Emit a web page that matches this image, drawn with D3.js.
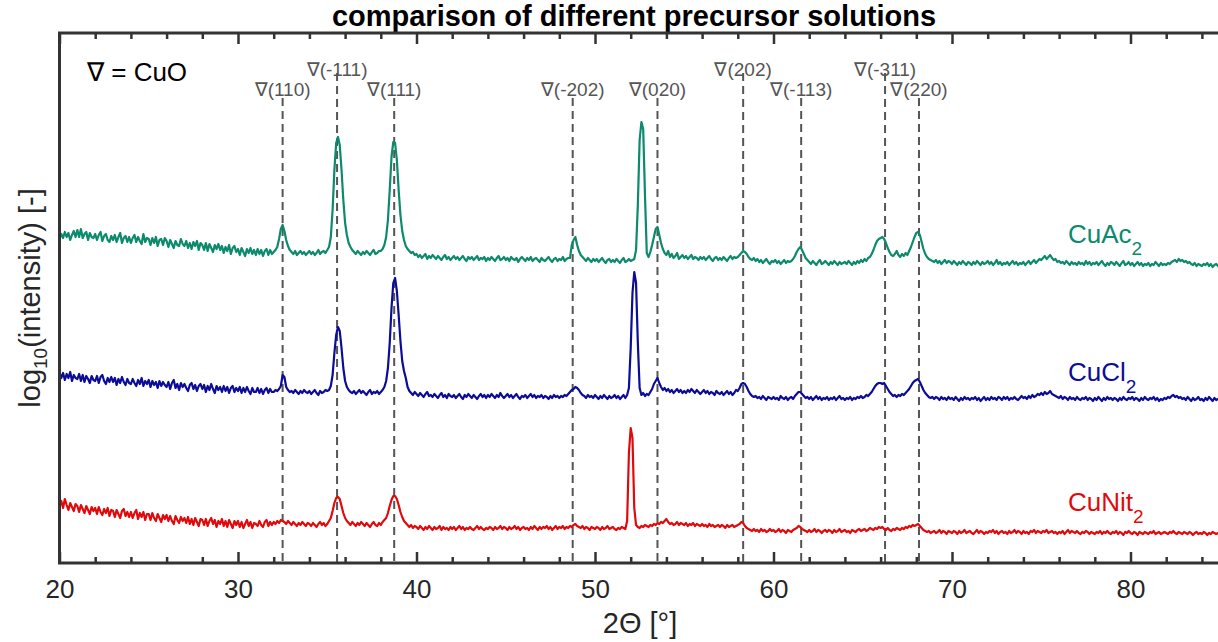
<!DOCTYPE html>
<html lang="en">
<head>
  <meta charset="UTF-8">
  <title>comparison of different precursor solutions</title>
  <script src="https://d3js.org/d3.v7.min.js"></script>
  <style>
    body { margin: 0; background: #fff; }
    text { font-family: "Liberation Sans", Arial, sans-serif; }
  </style>
</head>
<body>
<script>
  // scans are sampled every 0.1 deg from 20 deg
  var thetaStart = 20;
  var thetaStep = 0.1;

  var seriesNames = ['CuAc', 'CuCl', 'CuNit'];
  var seriesOffsets = [2.68, 1.30, 0]; // stacking offset of each scan

  // log10 intensity, one row per degree (20.0 ... 20.9, 21.0 ... )
  var cuAc = [
    .56,.61,.57,.63,.58,.62,.55,.60,.64,.58,
    .65,.58,.66,.57,.61,.63,.55,.62,.58,.57,
    .61,.55,.60,.63,.54,.59,.61,.55,.53,.59,
    .55,.60,.53,.58,.62,.52,.57,.59,.53,.58,
    .52,.57,.60,.53,.58,.54,.51,.61,.53,.57,
    .56,.50,.57,.52,.58,.49,.55,.56,.50,.57,
    .54,.48,.55,.51,.47,.54,.50,.49,.56,.51,
    .49,.54,.47,.52,.46,.53,.49,.54,.45,.52,
    .50,.45,.52,.44,.51,.47,.43,.50,.46,.51,
    .45,.49,.42,.48,.44,.50,.41,.47,.49,.43,
    .46,.40,.47,.43,.39,.46,.42,.47,.41,.45,
    .40,.46,.41,.45,.39,.44,.46,.40,.45,.41,
    .43,.45,.48,.56,.66,.70,.64,.55,.49,.45,
    .43,.41,.44,.40,.42,.44,.41,.43,.40,.42,
    .44,.41,.43,.40,.42,.45,.41,.43,.44,.42,
    .45,.48,.58,.85,1.25,1.52,1.58,1.50,1.25,.95,
    .72,.60,.52,.48,.45,.43,.41,.44,.42,.40,
    .43,.41,.44,.42,.40,.43,.45,.41,.42,.44,
    .44,.46,.50,.58,.75,1.05,1.38,1.53,1.52,1.35,
    1.05,.80,.64,.55,.49,.46,.44,.42,.43,.40,
    .41,.38,.40,.37,.39,.41,.36,.39,.37,.40,
    .38,.36,.39,.37,.35,.38,.40,.36,.38,.35,
    .37,.39,.36,.38,.35,.37,.39,.36,.34,.38,
    .36,.38,.35,.37,.39,.35,.37,.36,.38,.34,
    .37,.35,.38,.36,.34,.37,.39,.35,.36,.38,
    .35,.37,.34,.38,.36,.35,.37,.33,.36,.38,
    .36,.34,.37,.35,.38,.34,.36,.37,.35,.33,
    .37,.35,.34,.36,.38,.35,.33,.36,.37,.34,
    .36,.35,.38,.34,.36,.37,.37,.50,.55,.58,
    .50,.44,.40,.38,.36,.34,.37,.35,.33,.36,
    .34,.36,.33,.35,.37,.34,.32,.35,.36,.33,
    .35,.33,.36,.34,.32,.35,.37,.33,.34,.36,
    .34,.35,.36,.45,.90,1.55,1.73,1.66,1.00,.42,
    .38,.43,.50,.58,.66,.68,.60,.52,.46,.42,
    .40,.44,.38,.41,.37,.39,.42,.36,.38,.40,
    .37,.39,.36,.38,.40,.36,.38,.37,.35,.38,
    .36,.38,.35,.37,.39,.36,.34,.37,.38,.35,
    .37,.35,.38,.36,.34,.37,.39,.36,.38,.37,
    .38,.40,.42,.44,.43,.41,.38,.36,.35,.37,
    .34,.36,.33,.35,.32,.34,.36,.33,.31,.34,
    .33,.35,.32,.34,.31,.33,.35,.32,.34,.33,
    .34,.36,.39,.43,.46,.48,.45,.41,.37,.35,
    .33,.31,.34,.32,.30,.33,.35,.31,.32,.34,
    .32,.30,.33,.31,.34,.32,.30,.33,.31,.32,
    .33,.31,.34,.32,.30,.33,.31,.34,.32,.35,
    .33,.36,.34,.37,.38,.41,.45,.50,.54,.56,
    .57,.58,.56,.52,.47,.43,.40,.39,.41,.44,
    .40,.38,.41,.39,.42,.40,.44,.48,.53,.58,
    .62,.63,.60,.53,.46,.41,.38,.36,.35,.34,
    .33,.35,.32,.34,.31,.33,.35,.32,.34,.33,
    .31,.34,.32,.30,.33,.31,.34,.32,.30,.33,
    .32,.30,.33,.31,.34,.32,.30,.33,.31,.32,
    .34,.31,.33,.30,.32,.35,.31,.33,.30,.32,
    .31,.33,.30,.32,.34,.31,.33,.30,.32,.31,
    .33,.30,.32,.34,.31,.33,.35,.32,.34,.36,
    .35,.37,.39,.36,.38,.40,.37,.35,.36,.33,
    .34,.32,.33,.31,.34,.32,.30,.33,.31,.32,
    .30,.33,.31,.32,.30,.34,.31,.33,.30,.32,
    .31,.33,.30,.32,.34,.31,.29,.32,.30,.33,
    .32,.30,.33,.31,.29,.32,.34,.30,.31,.33,
    .30,.32,.29,.31,.33,.30,.32,.29,.31,.30,
    .32,.29,.31,.30,.33,.31,.29,.32,.30,.31,
    .30,.32,.31,.33,.34,.35,.33,.36,.34,.35,
    .33,.34,.32,.33,.31,.30,.32,.29,.31,.30,
    .29,.31,.30,.32,.29,.31,.28,.30,.31,.29,
    .30
  ];

  var cuCl = [
    .61,.55,.60,.53,.59,.55,.61,.52,.58,.55,
    .54,.59,.52,.58,.51,.57,.54,.50,.57,.53,
    .52,.57,.50,.56,.58,.52,.49,.55,.51,.56,
    .51,.55,.48,.54,.50,.56,.51,.48,.54,.50,
    .49,.54,.50,.47,.53,.49,.55,.47,.52,.49,
    .53,.46,.52,.48,.51,.45,.52,.47,.51,.48,
    .46,.51,.44,.50,.53,.45,.49,.43,.50,.46,
    .49,.45,.42,.48,.50,.44,.48,.42,.47,.49,
    .44,.48,.41,.47,.43,.49,.44,.40,.47,.43,
    .46,.41,.47,.42,.46,.40,.45,.47,.41,.45,
    .42,.46,.40,.45,.41,.46,.42,.39,.45,.41,
    .41,.45,.40,.44,.39,.43,.45,.40,.44,.41,
    .41,.43,.42,.44,.47,.58,.56,.46,.43,.41,
    .42,.40,.43,.41,.39,.42,.40,.43,.41,.40,
    .42,.39,.41,.43,.40,.38,.42,.40,.41,.43,
    .42,.43,.47,.58,.80,.98,1.06,1.02,.85,.65,
    .52,.46,.43,.41,.40,.42,.39,.41,.43,.40,
    .42,.40,.38,.41,.43,.39,.41,.40,.42,.39,
    .41,.43,.46,.52,.65,.90,1.25,1.50,1.55,1.42,
    1.18,.92,.72,.62,.55,.46,.42,.40,.38,.41,
    .39,.37,.40,.38,.36,.39,.41,.37,.38,.36,
    .39,.37,.35,.38,.40,.36,.38,.35,.39,.37,
    .36,.38,.35,.37,.39,.36,.34,.38,.36,.39,
    .37,.35,.38,.36,.34,.37,.39,.36,.38,.35,
    .38,.36,.39,.37,.35,.38,.36,.40,.37,.35,
    .37,.39,.36,.38,.35,.37,.39,.36,.34,.37,
    .36,.38,.35,.37,.39,.36,.38,.35,.37,.36,
    .38,.35,.37,.36,.34,.37,.35,.38,.36,.37,
    .35,.37,.36,.38,.37,.39,.41,.43,.44,.46,
    .45,.43,.40,.38,.37,.35,.38,.36,.37,.35,
    .38,.36,.34,.37,.35,.38,.36,.34,.37,.35,
    .36,.38,.35,.37,.34,.36,.38,.35,.38,.45,
    .85,1.40,1.61,1.50,.90,.45,.38,.40,.37,.39,
    .38,.41,.44,.49,.52,.55,.50,.46,.43,.45,
    .42,.44,.41,.43,.40,.42,.44,.41,.43,.40,
    .42,.40,.43,.41,.44,.42,.40,.43,.41,.39,
    .41,.43,.40,.42,.39,.41,.40,.38,.42,.40,
    .39,.41,.38,.40,.42,.39,.41,.38,.40,.43,
    .42,.45,.49,.50,.49,.46,.42,.39,.37,.36,
    .37,.35,.36,.34,.37,.35,.33,.36,.35,.34,
    .36,.34,.35,.33,.37,.35,.34,.36,.33,.35,
    .36,.34,.37,.39,.41,.41,.39,.37,.35,.36,
    .34,.36,.33,.35,.37,.34,.36,.33,.35,.34,
    .36,.33,.35,.34,.36,.33,.35,.37,.34,.35,
    .33,.35,.34,.36,.33,.35,.34,.36,.35,.37,
    .35,.36,.38,.37,.39,.41,.44,.47,.49,.50,
    .50,.49,.50,.47,.44,.41,.39,.37,.38,.36,
    .38,.37,.39,.38,.40,.42,.44,.47,.50,.52,
    .53,.54,.51,.47,.43,.40,.38,.36,.35,.36,
    .34,.36,.35,.33,.36,.34,.35,.33,.36,.34,
    .35,.33,.36,.34,.32,.35,.33,.36,.34,.35,
    .33,.35,.34,.36,.33,.35,.32,.34,.36,.33,
    .35,.33,.36,.34,.35,.33,.36,.35,.33,.36,
    .34,.36,.33,.35,.34,.36,.34,.33,.35,.37,
    .35,.36,.34,.37,.35,.38,.36,.37,.39,.38,
    .40,.38,.41,.39,.40,.42,.39,.38,.37,.36,
    .35,.37,.34,.36,.35,.33,.36,.34,.35,.33,
    .36,.34,.33,.35,.34,.36,.33,.35,.34,.32,
    .35,.33,.36,.34,.32,.35,.33,.36,.34,.35,
    .33,.35,.34,.32,.35,.33,.36,.34,.33,.35,
    .34,.36,.33,.35,.34,.32,.35,.33,.36,.34,
    .33,.35,.34,.36,.33,.35,.32,.34,.33,.35,
    .34,.36,.35,.37,.38,.36,.37,.35,.36,.34,
    .35,.33,.36,.34,.32,.35,.33,.34,.36,.33,
    .34,.32,.35,.33,.36,.34,.32,.35,.33,.34,
    .35
  ];

  var cuNit = [
    .56,.62,.55,.64,.58,.53,.60,.56,.52,.59,
    .57,.51,.58,.54,.50,.57,.53,.49,.56,.52,
    .55,.49,.56,.51,.48,.54,.50,.55,.47,.53,
    .52,.46,.53,.49,.45,.52,.54,.47,.51,.46,
    .51,.45,.50,.53,.44,.50,.46,.51,.43,.49,
    .49,.43,.50,.45,.42,.49,.45,.41,.48,.44,
    .48,.42,.47,.42,.39,.47,.43,.40,.46,.42,
    .45,.40,.46,.39,.44,.38,.45,.41,.37,.44,
    .43,.38,.44,.37,.42,.45,.39,.43,.36,.42,
    .39,.44,.37,.42,.36,.43,.39,.35,.42,.38,
    .42,.36,.41,.35,.39,.43,.37,.41,.35,.40,
    .39,.37,.42,.38,.36,.41,.43,.37,.41,.38,
    .41,.39,.42,.40,.43,.42,.41,.39,.42,.40,
    .38,.41,.39,.37,.40,.38,.41,.39,.37,.40,
    .39,.37,.40,.38,.36,.39,.41,.38,.40,.37,
    .39,.42,.45,.52,.60,.65,.66,.64,.57,.50,
    .45,.42,.40,.38,.41,.39,.37,.40,.38,.41,
    .39,.37,.40,.38,.36,.39,.41,.38,.37,.40,
    .38,.41,.43,.45,.50,.57,.63,.67,.67,.64,
    .58,.51,.46,.42,.40,.38,.36,.38,.35,.37,
    .36,.34,.37,.35,.33,.36,.34,.37,.35,.33,
    .36,.34,.35,.37,.33,.36,.34,.35,.33,.36,
    .34,.36,.33,.35,.37,.34,.36,.33,.35,.34,
    .36,.34,.33,.35,.37,.34,.36,.34,.33,.35,
    .34,.36,.35,.33,.36,.34,.35,.37,.34,.36,
    .35,.33,.36,.34,.35,.37,.34,.36,.33,.35,
    .36,.34,.35,.33,.36,.34,.37,.35,.33,.36,
    .34,.36,.35,.37,.34,.36,.33,.35,.37,.34,
    .36,.35,.37,.34,.36,.35,.37,.36,.38,.39,
    .37,.36,.35,.37,.34,.36,.35,.33,.36,.35,
    .34,.36,.35,.33,.36,.34,.35,.37,.34,.35,
    .36,.34,.33,.35,.34,.36,.35,.34,.42,1.10,
    1.35,1.25,.55,.38,.36,.35,.37,.36,.38,.37,
    .36,.38,.37,.39,.38,.40,.39,.41,.40,.42,
    .44,.41,.39,.40,.38,.39,.41,.38,.40,.39,
    .38,.40,.37,.39,.38,.40,.37,.39,.38,.37,
    .39,.37,.38,.36,.39,.37,.38,.36,.37,.38,
    .36,.38,.37,.35,.38,.36,.37,.38,.36,.37,
    .38,.39,.41,.40,.37,.35,.34,.33,.32,.34,
    .32,.33,.31,.34,.32,.33,.31,.32,.34,.32,
    .33,.31,.32,.34,.31,.33,.32,.30,.33,.32,
    .31,.33,.34,.35,.37,.36,.34,.33,.32,.31,
    .33,.31,.32,.34,.31,.33,.32,.30,.32,.33,
    .31,.33,.32,.30,.33,.31,.32,.34,.31,.32,
    .33,.31,.32,.30,.33,.32,.31,.33,.34,.32,
    .33,.34,.32,.33,.35,.34,.33,.35,.34,.36,
    .35,.36,.34,.33,.35,.33,.32,.34,.33,.35,
    .34,.33,.35,.34,.36,.35,.37,.36,.38,.37,
    .38,.39,.37,.35,.33,.32,.31,.32,.30,.31,
    .32,.30,.31,.33,.30,.32,.31,.29,.32,.31,
    .30,.32,.31,.29,.32,.30,.31,.33,.30,.31,
    .32,.30,.29,.31,.33,.30,.32,.31,.29,.31,
    .30,.32,.31,.33,.30,.32,.29,.31,.32,.30,
    .31,.29,.32,.30,.31,.33,.30,.32,.31,.29,
    .32,.30,.31,.29,.32,.31,.33,.30,.32,.31,
    .30,.32,.31,.33,.30,.31,.32,.30,.31,.29,
    .31,.30,.32,.29,.31,.33,.30,.32,.31,.30,
    .32,.30,.29,.31,.30,.32,.31,.29,.31,.30,
    .29,.31,.30,.32,.29,.31,.30,.32,.30,.29,
    .31,.30,.32,.29,.31,.30,.28,.31,.30,.32,
    .30,.29,.31,.30,.28,.31,.30,.29,.31,.30,
    .29,.31,.30,.32,.29,.30,.31,.29,.30,.31,
    .30,.29,.31,.30,.32,.30,.29,.31,.30,.29,
    .31,.30,.29,.31,.30,.28,.30,.31,.29,.30,
    .29,.31,.30,.28,.30,.29,.31,.30,.29,.30,
    .30
  ];

  var xTicks = [20, 30, 40, 50, 60, 70, 80];
  var xMinorTicks = [22, 24, 26, 28, 32, 34, 36, 38, 42, 44, 46, 48, 52, 54, 56, 58,
    62, 64, 66, 68, 72, 74, 76, 78, 82, 84];

  // CuO reflections
  var peakAngles = [32.5, 35.55, 38.75, 48.75, 53.5, 58.3, 61.55, 66.25, 68.15];
  var peakLabels = ['∇(110)', '∇(-111)', '∇(111)', '∇(-202)', '∇(020)', '∇(202)', '∇(-113)', '∇(-311)', '∇(220)'];
  var peakRow = [1, 0, 1, 1, 1, 0, 1, 0, 1]; // 0 = upper row of labels

  var width = 1218;
  var height = 642;
  var colors = ['#0b8a6c', '#0c0c98', '#e00a0c'];
  var axisColor = '#333333';

  var svg = d3.select('body')
    .append('svg')
    .attr('width', width)
    .attr('height', height);

  var plot = { left: 59.5, right: 1219.75, top: 33, bottom: 563 };

  var x = d3.scaleLinear()
    .domain([20, 85])
    .range([plot.left, plot.right]);
  var y = d3.scaleLinear()
    .domain([0, 5.3])
    .range([plot.bottom, plot.top]);

  // title
  svg.append('text')
    .attr('x', 634)
    .attr('y', 26)
    .attr('text-anchor', 'middle')
    .attr('font-size', '29px')
    .attr('font-weight', 'bold')
    .attr('fill', '#000')
    .text('comparison of different precursor solutions');

  // dashed reference lines + labels
  svg.selectAll('line.ref')
    .data(peakAngles)
    .enter()
    .append('line')
    .attr('class', 'ref')
    .attr('x1', function (d) { return x(d); })
    .attr('x2', function (d) { return x(d); })
    .attr('y1', function (d, i) { return peakRow[i] === 0 ? 73 : 98; })
    .attr('y2', plot.bottom)
    .attr('stroke', '#555')
    .attr('stroke-width', 2)
    .attr('stroke-dasharray', '8,5');

  svg.selectAll('text.ref')
    .data(peakAngles)
    .enter()
    .append('text')
    .attr('class', 'ref')
    .attr('x', function (d) { return x(d); })
    .attr('y', function (d, i) { return peakRow[i] === 0 ? 76 : 96; })
    .attr('text-anchor', 'middle')
    .attr('font-size', '19px')
    .attr('fill', '#555')
    .text(function (d, i) { return peakLabels[i]; });

  svg.append('text')
    .attr('x', 87)
    .attr('y', 81)
    .attr('font-size', '26px')
    .attr('fill', '#000')
    .text('∇ = CuO');

  // scans
  var scans = [cuAc, cuCl, cuNit];
  scans.forEach(function (values, k) {
    var line = d3.line()
      .x(function (d, i) { return x(thetaStart + i * thetaStep); })
      .y(function (d) { return y(d + seriesOffsets[k]); });
    svg.append('path')
      .datum(values)
      .attr('d', line)
      .attr('fill', 'none')
      .attr('stroke', colors[k])
      .attr('stroke-width', 2.2)
      .attr('stroke-linejoin', 'round');

    var lbl = svg.append('text')
      .attr('x', x(76.5))
      .attr('y', y(seriesOffsets[k] + 0.52))
      .attr('font-size', '26px')
      .attr('fill', colors[k]);
    lbl.append('tspan').text(seriesNames[k]);
    lbl.append('tspan').attr('font-size', '19px').attr('dy', 12).text('2');
  });

  // axes (ticks inside)
  function addAxis(axis, ty) {
    var g = svg.append('g')
      .attr('transform', 'translate(0,' + ty + ')')
      .call(axis);
    g.select('.domain').remove();
    g.selectAll('line').attr('stroke', axisColor).attr('stroke-width', 2.5);
    g.selectAll('text')
      .attr('font-size', '26px')
      .attr('font-family', '"Liberation Sans", Arial, sans-serif')
      .attr('fill', '#262626');
    return g;
  }
  addAxis(d3.axisBottom(x).tickValues(xTicks).tickSize(-11).tickPadding(17), plot.bottom);
  addAxis(d3.axisBottom(x).tickValues(xMinorTicks).tickSize(-6).tickFormat(''), plot.bottom);
  addAxis(d3.axisTop(x).tickValues(xTicks).tickSize(-11).tickFormat(''), plot.top);
  addAxis(d3.axisTop(x).tickValues(xMinorTicks).tickSize(-6).tickFormat(''), plot.top);

  svg.append('rect')
    .attr('x', plot.left)
    .attr('y', plot.top)
    .attr('width', plot.right - plot.left)
    .attr('height', plot.bottom - plot.top)
    .attr('fill', 'none')
    .attr('stroke', axisColor)
    .attr('stroke-width', 3);

  // axis titles
  svg.append('text')
    .attr('x', 640)
    .attr('y', 633)
    .attr('text-anchor', 'middle')
    .attr('font-size', '29px')
    .attr('fill', '#262626')
    .text('2Θ [°]');

  var yl = svg.append('text')
    .attr('transform', 'translate(40,' + (plot.top + plot.bottom) / 2 + ') rotate(-90)')
    .attr('text-anchor', 'middle')
    .attr('font-size', '29px')
    .attr('fill', '#262626');
  yl.append('tspan').text('log');
  yl.append('tspan').attr('font-size', '19px').attr('dy', 7).text('10');
  yl.append('tspan').attr('dy', -7).text('(intensity) [-]');
</script>
</body>
</html>
